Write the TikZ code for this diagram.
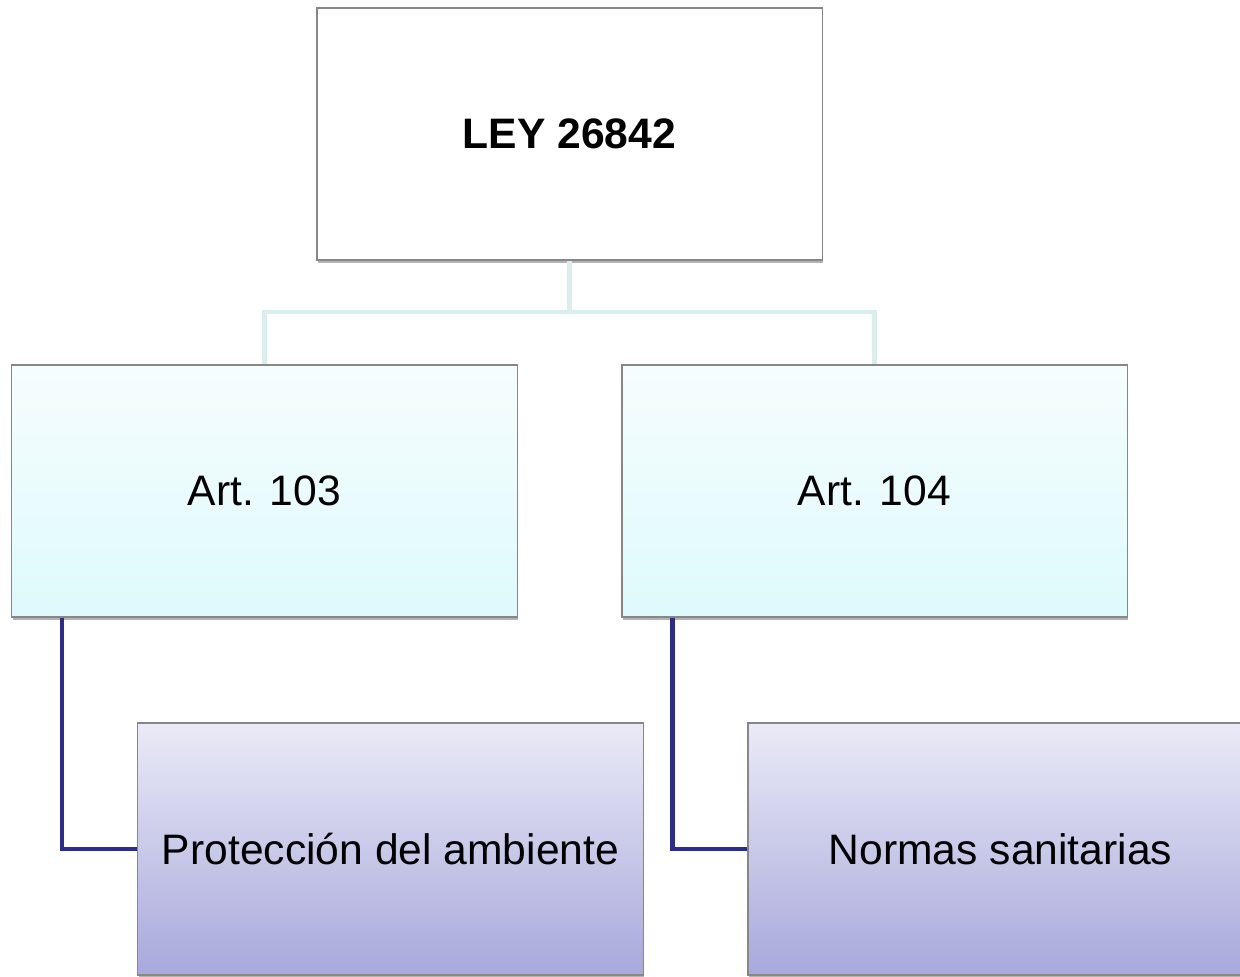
\documentclass[tikz,border=0pt]{standalone}
\usepackage{fontspec}
\setmainfont{Liberation Sans}
\usetikzlibrary{shadows}

\definecolor{lawborder}{RGB}{135,135,135}
\definecolor{forkcol}{RGB}{218,238,238}
\definecolor{subcol}{RGB}{44,44,140}
\definecolor{arttop}{RGB}{246,253,254}
\definecolor{artbot}{RGB}{222,250,252}
\definecolor{topictop}{RGB}{234,234,247}
\definecolor{topicbot}{RGB}{168,168,220}

\begin{document}
\begin{tikzpicture}[x=0.025cm,y=-0.025cm]
\tikzstyle{box} = [rectangle, draw=lawborder, line width=0.8pt,
minimum width=12.625cm, minimum height=6.3cm, inner sep=0pt,
font=\fontsize{30.3}{36}\selectfont,
drop shadow={shadow xshift=0.5pt, shadow yshift=-1.8pt, opacity=0.6}]
\tikzstyle{lawbox} = [box, fill=white, font=\fontsize{30.3}{36}\selectfont\bfseries]
\tikzstyle{artbox} = [box, top color=arttop, bottom color=artbot]
\tikzstyle{topicbox} = [box, top color=topictop, bottom color=topicbot]
\tikzstyle{forkline} = [draw=forkcol, line width=3pt];
\tikzstyle{subline} = [draw=subcol, line width=3pt];
\useasboundingbox (0,0) rectangle (1240,976);

\coordinate (fork) at (569.5,312);
\node [lawbox] (law) at (569.5,134) {LEY 26842};
\node [artbox] (art103) at (264.5,491) {Art. 103};
\node [artbox] (art104) at (874.5,491) {Art. 104};
\node [topicbox] (proteccion) at (390.5,849) {Protección del ambiente};
\node [topicbox] (normas) at (1000.5,849) {Normas sanitarias};

% connectors
\path[forkline] (law.south) -- (fork) -| (art103.north);
\path[forkline] (fork) -| (art104.north);
\path[subline] ([xshift=1.275cm]art103.south west) |- (proteccion.west);
\path[subline] ([xshift=1.275cm]art104.south west) |- (normas.west);
\end{tikzpicture}
\end{document}
